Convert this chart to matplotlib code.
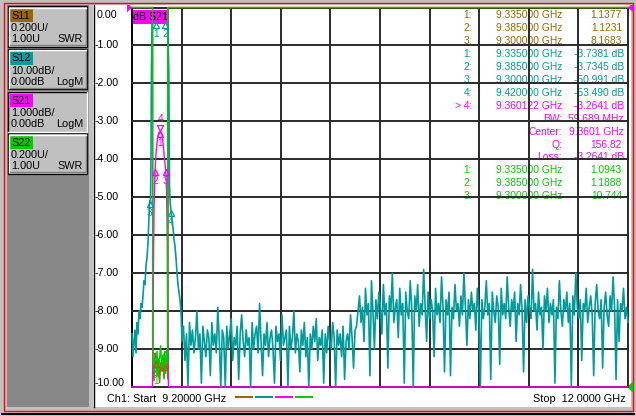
import matplotlib as mpl
mpl.use('Agg')
import matplotlib.pyplot as plt
import numpy as np
from matplotlib.patches import Rectangle, Polygon

plt.rcParams['font.family'] = ['Liberation Sans', 'DejaVu Sans']
FS = 7.2

W, H = 636, 416
# grid box of the trace window, screen pixels
PL, PT, PR, PB = 132.0, 7.5, 628.0, 387.0

F_START, F_STOP = 9.2, 12.0

C11, C12, C21, C22 = '#9c6500', '#009c9c', '#ff00ff', '#00cc00'
GRID = '#2a2a2a'

# ---- channel buttons ----
btn_names = ['S11', 'S12', 'S21', 'S22']
btn_scale = ['0.200U/', '10.00dB/', '1.000dB/', '0.200U/']
btn_ref = ['1.00U', '0.00dB', '0.00dB', '1.00U']
btn_fmt = ['SWR', 'LogM', 'LogM', 'SWR']
btn_cols = [C11, C12, C21, C22]

# ---- traces ----
# S21, dB (1 dB/div, ref 0 dB at top)
s21_f = [9.2, 9.300, 9.3157, 9.3197, 9.3242, 9.3282, 9.3303, 9.3355, 9.3412,
         9.3468, 9.3524, 9.360122, 9.3666, 9.3722, 9.3779, 9.3835, 9.3900,
         9.3948, 9.3993, 9.4032, 9.4060, 9.5, 12.0]
s21_db = [-40, -30, -12, -7.5, -5.3, -4.6, -4.2641, -3.85, -3.55,
          -3.38, -3.29, -3.2641, -3.30, -3.45, -3.70, -4.0, -4.2641,
          -4.8, -6.0, -9.0, -12, -30, -40]

# S12 skirt, dB (10 dB/div, ref 0 dB at top)
s12_skirt_f = [9.2000, 9.2056, 9.2113, 9.2169, 9.2226, 9.2282, 9.2339, 9.2395,
               9.2452, 9.2508, 9.2565, 9.2621, 9.2677, 9.2734, 9.2790, 9.2847,
               9.2903, 9.2960, 9.3000, 9.3044, 9.3073, 9.3096, 9.3130, 9.3214,
               9.3350, 9.3580, 9.3850, 9.3948, 9.4020, 9.4078, 9.4117, 9.4156,
               9.4200, 9.4258, 9.4314, 9.4371, 9.4427, 9.4484, 9.4540, 9.4597,
               9.4653, 9.4710, 9.4766]
s12_skirt_db = [-86, -92, -88, -85, -91, -83, -86, -80,
                -82, -78, -79, -76, -72, -73, -68, -66,
                -62, -55, -50.991, -51.5, -39, -18, -4.4, -3.9,
                -3.7381, -3.6, -3.7345, -3.8, -4.5, -17, -47, -51.5,
                -53.49, -56, -58, -61, -63, -66, -70, -73,
                -75, -77, -80]
# S12 noise floor, 9.483 GHz .. 12 GHz
s12_noise_db = [
    -88, -84, -93, -86, -100, -83, -89, -85, -91, -87, -80, -90, -86, -99, -84, -88, -92, -85, -87, -97,
    -83, -89, -86, -91, -79, -88, -100, -85, -87, -100, -84, -90, -86, -82, -93, -87, -89, -84, -98, -86,
    -81, -88, -92, -85, -89, -87, -100, -83, -90, -86, -84, -91, -78, -88, -97, -86, -89, -83, -92, -87,
    -85, -90, -99, -84, -88, -86, -93, -81, -89, -87, -85, -100, -84, -90, -87, -80, -91, -86, -88, -96,
    -85, -89, -83, -92, -87, -100, -86, -90, -84, -88, -82, -93, -87, -89, -85, -99, -86, -91, -84, -88,
    -90, -83, -87, -100, -85, -89, -86, -92, -84, -98, -88, -86, -90, -81, -87, -95, -85,
    -84, -80, -76, -83, -79, -88, -74, -81, -78, -97, -72, -80, -90, -77, -82, -75, -79, -86, -73, -81,
    -78, -95, -76, -80, -70, -83, -79, -77, -87, -74, -81, -78, -99, -75, -80, -82, -72, -79, -100, -76,
    -80, -73, -84, -78, -81, -69, -79, -88, -75, -82, -77, -80, -92, -74, -81, -78, -83, -71, -79, -96,
    -77, -81, -75, -97, -79, -82, -73, -80, -78, -84, -76, -81, -70, -79, -89, -77, -82, -75, -80, -78,
    -85, -74, -80, -100, -77, -82, -79, -72, -81, -78, -98, -75, -80, -83, -76, -79, -94, -74, -81, -78,
    -82, -71, -79, -84, -77, -80, -75, -88, -78, -81, -73, -80, -96, -77, -83, -76, -79, -82, -69, -80,
    -78, -85, -75, -81, -79, -90, -76, -80, -74, -83, -78, -81, -77, -99, -79, -82, -72, -80, -84, -77,
    -80, -75, -83, -78, -100, -76, -81, -70, -79, -82, -77, -93, -78, -80, -74, -83, -79, -76, -81, -97,
    -78, -73, -80, -82, -77, -95, -79, -75, -81, -84, -76, -80, -71, -79, -98, -77, -88, -78, -80, -74,
    -82, -79, -83]
s12_noise_f = np.linspace(9.4823, F_STOP, len(s12_noise_db))

# S11 / S22 SWR (0.2 U/div, ref 1.00 at bottom)
s11_f = [9.2, 9.300, 9.3163, 9.3180, 9.3242, 9.3310, 9.3350, 9.3422, 9.3490, 9.3558,
         9.3626, 9.3694, 9.3761, 9.3818, 9.3850, 9.3919, 9.3986, 9.4032, 9.4050, 9.42, 12.0]
s11_swr = [8.5, 8.1683, 8.0, 1.12, 1.03, 1.18, 1.1377, 1.06, 1.15, 1.02,
           1.13, 1.08, 1.17, 1.05, 1.1231, 1.09, 1.16, 1.04, 8.0, 8.3, 9.0]
s22_f = [9.2, 9.300, 9.3161, 9.3163, 9.3231, 9.3299, 9.3350, 9.3412, 9.3480, 9.3547,
         9.3615, 9.3682, 9.3750, 9.3807, 9.3850, 9.3904, 9.3961, 9.4000, 9.4016, 9.42, 12.0]
s22_swr = [11.0, 10.744, 10.5, 1.21, 1.08, 1.16, 1.0943, 1.19, 1.05, 1.14,
           1.22, 1.10, 1.17, 1.04, 1.1888, 1.07, 1.20, 1.12, 10.0, 10.5, 11.0]

# ---- marker readouts ----
mk_f = [9.335, 9.385, 9.300, 9.420]
s11_mk = [1.1377, 1.1231, 8.1683]
s12_mk = [-3.7381, -3.7345, -50.991, -53.490]
s21_mk_f = [9.360122, 9.3303, 9.3900, 9.360122]
s21_mk = [-3.2641, -4.2641, -4.2641, -3.2641]
s22_mk = [1.0943, 1.1888, 10.744]
s21_bw_mhz = 59.689
s21_center = 9.3601
s21_q = 156.82
s21_loss = -3.2641


def scr(v, scale, ref, ref_pos):
    return np.clip((np.asarray(v, float) - ref) / scale + ref_pos, -10, 0)


def swr(v):
    return scr(v, 0.2, 1.0, -10)


def px_y(i):
    return PT + i * (PB - PT) / 10


fig = plt.figure(figsize=(W / 100, H / 100), dpi=100, facecolor='#c0c0c0')
bg = fig.add_axes([0, 0, 1, 1])
bg.set_xlim(0, W)
bg.set_ylim(H, 0)
bg.axis('off')

# window frame
bg.add_patch(Rectangle((6.5, 5), 82, 402, fc='#878787', ec='none'))
bg.add_patch(Rectangle((93, 5), 537.5, 401.5, fc='white', ec='none'))
bg.plot([93.8, 93.8], [5, 406.5], color='black', lw=1.0)
bg.add_patch(Rectangle((3.5, 2.5), 629.5, 408.7, fill=False, ec='red', lw=1.0))
bg.plot([2, 634], [413.7, 413.7], color='black', lw=1.4)

# channel buttons
tops = [6, 48.5, 91, 133]
for i, top in enumerate(tops):
    sel = btn_names[i] == 'S21'
    bg.add_patch(Rectangle((7.5, top), 79.5, 40.5, fc='#c0c0c0',
                           ec='none' if sel else 'black', lw=0.9))
    if sel:
        bg.plot([8, 8, 86.5], [top + 40.5, top + 0.7, top + 0.7], color='black', lw=1.0)
        bg.plot([8, 86.5, 86.5], [top + 40.5, top + 40.5, top + 0.7], color='white', lw=1.0)
    else:
        bg.plot([9, 85.5, 85.5], [top + 39.2, top + 39.2, top + 1.5], color='#808080', lw=1.0)
        bg.plot([9, 9, 85.5], [top + 39.2, top + 1.5, top + 1.5], color='white', lw=1.0)
    bg.add_patch(Rectangle((10, top + 3.3), 23, 12.7, fc=btn_cols[i], ec='none'))
    bg.text(11, top + 9.8, btn_names[i], fontsize=FS + 0.6, va='center', ha='left')
    bg.text(11, top + 22.3, btn_scale[i], fontsize=FS + 0.6, va='center', ha='left')
    bg.text(11, top + 33.3, btn_ref[i], fontsize=FS + 0.6, va='center', ha='left')
    bg.text(83, top + 33.3, btn_fmt[i], fontsize=FS + 0.6, va='center', ha='right')

# y labels (active channel S21: 1 dB/div, ref 0)
for i in range(11):
    v = 0.0 - i * 1.0
    y = min(max(px_y(i), 15), 383)
    lab = f'{v:.2f}'
    bg.text(97 if v >= 0 else 94.3, y, lab, fontsize=FS + 0.5, va='center', ha='left')

# marker table
rows = []
for n, f, v in zip([1, 2, 3], mk_f, s11_mk):
    rows.append((C11, f'{n}:', f'{f:.6f} GHz', f'{v:#.5g}', 622))
for n, f, v in zip([1, 2, 3, 4], mk_f, s12_mk):
    rows.append((C12, f'{n}:', f'{f:.6f} GHz', f'{v:#.5g} dB', 624))
rows.append((C21, '> 4:', f'{s21_mk_f[3]:.6f} GHz', f'{s21_mk[3]:#.5g} dB', 624))
rows.append((C21, '', 'BW:', f'{s21_bw_mhz:#.5g} MHz', 624))
rows.append((C21, '', 'Center:', f'{s21_center:.4f} GHz', 624))
rows.append((C21, '', 'Q:', f'{s21_q:#.5g}', 622))
rows.append((C21, '', 'Loss:', f'{s21_loss:#.5g} dB', 624))
for n, f, v in zip([1, 2, 3], mk_f, s22_mk):
    rows.append((C22, f'{n}:', f'{f:.6f} GHz', f'{v:#.5g}', 622))
for j, (c, a, b, val, xr) in enumerate(rows):
    y = 15 + 12.95 * j
    bg.text(472, y, a, color=c, fontsize=FS + 0.2, ha='right', va='center')
    bg.text(562, y, b, color=c, fontsize=FS + 0.2, ha='right', va='center')
    bg.text(xr, y, val, color=c, fontsize=FS + 0.2, ha='right', va='center')

# status line
bg.text(107, 398.5, f'Ch1: Start  {F_START:.5f} GHz', fontsize=FS + 0.6, va='center', ha='left')
bg.text(626, 398.5, f'Stop  {F_STOP:.4f} GHz', fontsize=FS + 0.6, va='center', ha='right')
for k, c in enumerate(btn_cols):
    bg.plot([235 + 20 * k, 253 + 20 * k], [396.7, 396.7], color=c, lw=1.5, solid_capstyle='butt')

# ---- trace window ----
ax = fig.add_axes([PL / W, 1 - PB / H, (PR - PL) / W, (PB - PT) / H], zorder=5)
ax.patch.set_visible(False)
ax.set_xlim(F_START, F_STOP)
ax.set_ylim(-10, 0)
ax.axis('off')

for i in range(11):
    xf = F_START + i * (F_STOP - F_START) / 10
    ax.axvline(xf, color='black' if i == 0 else GRID, lw=1.4, zorder=1, clip_on=False)
    ax.axhline(-i, color=GRID, lw=1.4, zorder=1, clip_on=False)

kw = dict(lw=1.0, clip_on=False, solid_joinstyle='miter')
ax.plot(s11_f, swr(s11_swr), color=C11, zorder=2, **kw)
s12_f_all = np.concatenate([s12_skirt_f, s12_noise_f])
s12_all = np.concatenate([s12_skirt_db, s12_noise_db])
ax.plot(s12_f_all, scr(s12_all, 10, 0, 0), color=C12, zorder=3, lw=1.2, clip_on=False)
ax.plot(s21_f, scr(s21_db, 1, 0, 0), color=C21, zorder=4, **kw)
ax.plot(s22_f, swr(s22_swr), color=C22, zorder=6, **kw)

# active-channel title box
ax.add_patch(Rectangle((132.7, 10), 35, 14, transform=bg.transData, fc=C21, ec='none',
                       zorder=5, clip_on=False))
ax.text(133.2, 17.2, 'dB S21', transform=bg.transData, fontsize=FS + 0.5, va='center',
        ha='left', zorder=5.5)

TRI_UP = [(0, 0), (-3, -6), (3, -6), (0, 0)]
TRI_DN = [(0, 0), (-3, 6), (3, 6), (0, 0)]


def mark(f, y, num, color, active=False, label=True):
    if y <= -10 or y >= 0:
        return
    ax.plot([f], [y], ls='none', marker=TRI_DN if active else TRI_UP, ms=8.6,
            mfc='none', mec=color, mew=0.9, zorder=7, clip_on=False)
    if label:
        ax.annotate(num, (f, y), xytext=(0, 9.0 if active else -8.6),
                    textcoords='offset points', ha='center', va='center',
                    fontsize=FS, color=color, zorder=7, annotation_clip=False)


# S11 markers sit under the S22 ones, their numbers are hidden
for n, f, v in zip('123', mk_f, s11_mk):
    mark(f, float(swr(v)), n, C11, label=False)
for n, f, v in zip('1234', mk_f, s12_mk):
    mark(f, float(scr(v, 10, 0, 0)), n, C12)
for n, f, v in zip('123', s21_mk_f, s21_mk):
    mark(f, float(scr(v, 1, 0, 0)), n, C21)
mark(s21_mk_f[3], float(scr(s21_mk[3], 1, 0, 0)), '4', C21, active=True)
for n, f, v in zip('123', mk_f, s22_mk):
    mark(f, float(swr(v)), n, C22)

# reference level pointers
bg.add_patch(Polygon([(127, 5), (127, 12.5), (PL, PT), (129.5, 5)], fc=C21, ec='none', zorder=6))
bg.add_patch(Polygon([(PR, PT), (633.5, 12.5), (633.5, 5), (630.5, 5)], fc=C21, ec='none', zorder=6))
bg.add_patch(Polygon([(PR - 1, PB), (633.5, PB - 6), (633.5, PB + 6)], fc=C22, ec='none', zorder=6))

fig.savefig('out.png', dpi=100, facecolor=fig.get_facecolor())
plt.close(fig)
